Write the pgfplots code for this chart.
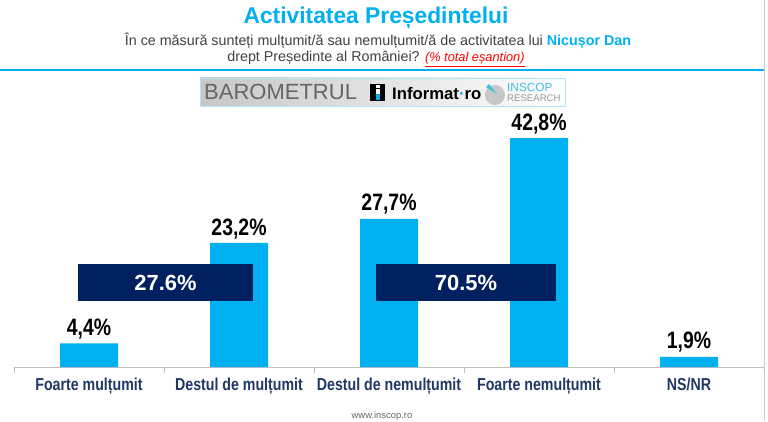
\documentclass[border=0pt]{standalone}
\usepackage{pgfplots}
\pgfplotsset{compat=1.18}
\usepackage{fontspec}
\setmainfont{Liberation Sans}
\newfontfamily\narrow[FakeStretch=0.82]{Liberation Sans}
\definecolor{cyanb}{HTML}{00B0F0}
\definecolor{navy}{HTML}{002060}
\definecolor{catblue}{HTML}{203864}
\definecolor{subgray}{HTML}{404040}
\definecolor{inscop}{HTML}{45BCE6}
\begin{document}
\begin{tikzpicture}
\begin{scope}[x=1pt,y=1pt]
\useasboundingbox (0,0) rectangle (768,421);
% frame lines
\draw[cyanb, line width=2pt] (0,351) -- (764,351);
\draw[black!20, line width=1pt] (764,0) -- (764,421);
% titles
\node[font=\fontsize{22.8}{26}\selectfont\bfseries, text=cyanb] at (376,403) {Activitatea Președintelui};
\node[font=\fontsize{14.3}{16}\selectfont, text=subgray] at (378,380) {În ce măsură sunteți mulțumit/ă sau nemulțumit/ă de activitatea lui {\bfseries\color{cyanb}Nicușor Dan}};
\node[font=\fontsize{14.3}{16}\selectfont, text=subgray] at (376,362) {drept Președinte al României? {\color{red}\fontsize{12.8}{14}\selectfont\underline{\itshape (\% total eșantion)}}};
% logo
\shade[left color=black!22, right color=white] (200,315) rectangle (565,343);
\draw[cyanb!30, line width=0.6pt] (200,315) rectangle (565,343);
\node[anchor=west, inner sep=0pt, font=\fontsize{22}{24}\selectfont, text=black!60] at (204,329) {BAROMETRUL};
\fill[black] (370,320) rectangle (385,337);
\fill[white] (375.5,333) rectangle (379.5,336);
\fill[white] (375.5,327) rectangle (379.5,331.5);
\fill[cyanb] (375.5,321) rectangle (379.5,327);
\node[anchor=west, inner sep=0pt, font=\fontsize{16.7}{18}\selectfont\bfseries, text=black] at (392,327) {Informat{\color{cyanb}·}ro};
\fill[black!22] (495,326) circle (10);
\fill[inscop] (486,334) -- (489,337) -- (497,327) -- cycle;
\node[anchor=west, inner sep=0pt, font=\fontsize{11.8}{13}\selectfont, text=inscop] at (507,333.5) {INSCOP};
\node[anchor=west, inner sep=0pt, font=\fontsize{9.6}{10}\selectfont, text=black!40] at (507,322.5) {RESEARCH};
% footer
\node[anchor=north, inner sep=0pt, font=\fontsize{9.4}{10}\selectfont, text=black!60] at (382,9.5) {www.inscop.ro};
\end{scope}
\begin{axis}[
  at={(14pt,54pt)}, anchor=south west,
  scale only axis, width=750pt, height=250pt,
  xmin=-0.5, xmax=4.5, ymin=0, ymax=46.73,
  axis y line=none, axis x line*=bottom,
  x axis line style={black!25, line width=0.8pt, -},
  xtick={-0.5,0.5,1.5,2.5,3.5,4.5}, xticklabels={},
  major tick length=6pt, tick align=outside,
  xtick style={black!25, line width=0.8pt},
  extra x ticks={0,1,2,3,4},
  extra x tick labels={Foarte mulțumit,Destul de mulțumit,Destul de nemulțumit,Foarte nemulțumit,NS/NR},
  extra x tick style={major tick length=0pt, tick style={draw=none},
    ticklabel style={font=\narrow\fontsize{17.3}{19}\selectfont\bfseries, text=catblue, inner sep=0pt, yshift=-11pt}},
  /pgf/number format/assume math mode=true,
  clip=false,
]
\addplot[ybar, bar width=58pt, fill=cyanb, draw=none,
  nodes near coords={\pgfmathprintnumber[use comma, fixed, fixed zerofill, precision=1, assume math mode=true]{\pgfplotspointmeta}\%},
  every node near coord/.append style={font=\narrow\fontsize{23.7}{25}\selectfont\bfseries, text=black, inner sep=0pt, yshift=4pt}]
  coordinates {(0,4.4) (1,23.2) (2,27.7) (3,42.8) (4,1.9)};
\fill[navy] (axis cs:-0.073,12.34) rectangle (axis cs:1.093,19.25);
\node[font=\fontsize{21.9}{24}\selectfont\bfseries, text=white] at (axis cs:0.51,15.8) {27.6\%};
\fill[navy] (axis cs:1.913,12.34) rectangle (axis cs:3.113,19.25);
\node[font=\fontsize{21.9}{24}\selectfont\bfseries, text=white] at (axis cs:2.513,15.8) {70.5\%};
\end{axis}
\end{tikzpicture}
\end{document}
